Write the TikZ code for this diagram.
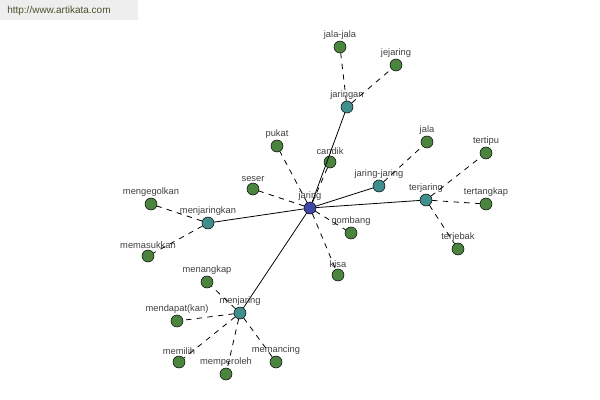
\documentclass[tikz,border=0pt]{standalone}
\usepackage{fontspec}
\setmainfont{Liberation Sans}
\usetikzlibrary{positioning}
\tikzstyle{canvas} = [x = 0.75pt, y = -0.75pt]
\definecolor{rootColor}{RGB}{62,72,168}
\definecolor{formColor}{RGB}{64,142,142}
\definecolor{wordColor}{RGB}{74,132,62}
\definecolor{markColor}{RGB}{238,238,238}
\definecolor{markText}{RGB}{72,84,44}
\tikzstyle{dot} = [circle, draw=black, thin, minimum size = 9pt, inner sep = 0pt]
\tikzstyle{rootDot} = [dot, fill=rootColor]
\tikzstyle{formDot} = [dot, fill=formColor]
\tikzstyle{wordDot} = [dot, fill=wordColor]
\tikzstyle{wordLabel} = [font=\fontsize{7}{8}\selectfont, text=black!75, inner sep = 1pt]
\tikzstyle{strongLink} = [color=black, line width = 0.6pt]
\tikzstyle{weakLink} = [color=black, line width = 0.6pt, dash pattern = on 4pt off 4pt]
\newcommand{\wordNode}[5]{\node [#4, label={[wordLabel, label distance = 0pt]above:#5}] (#1) at (#2, #3) {};}

\begin{document}
\begin{tikzpicture}[canvas]
  \useasboundingbox [fill=white] (0,0) rectangle (600,400);
  \fill [markColor] (0,0) rectangle (138,20);
  \node [font=\fontsize{7.5}{9}\selectfont, text=markText, anchor=west, inner sep = 0pt] (mark) at (7,11) {http://www.artikata.com};

  % root and derived forms
  \wordNode{jaring}{310}{208}{rootDot}{jaring}
  \wordNode{jaringan}{347}{107}{formDot}{jaringan}
  \wordNode{jaringjaring}{379}{186}{formDot}{jaring-jaring}
  \wordNode{terjaring}{426}{200}{formDot}{terjaring}
  \wordNode{menjaringkan}{208}{223}{formDot}{menjaringkan}
  \wordNode{menjaring}{240}{313}{formDot}{menjaring}

  % related words
  \wordNode{jalajala}{340}{47}{wordDot}{jala-jala}
  \wordNode{jejaring}{396}{65}{wordDot}{jejaring}
  \wordNode{pukat}{277}{146}{wordDot}{pukat}
  \wordNode{candik}{330}{162}{wordDot}{candik}
  \wordNode{seser}{253}{189}{wordDot}{seser}
  \wordNode{jala}{427}{142}{wordDot}{jala}
  \wordNode{tertipu}{486}{153}{wordDot}{tertipu}
  \wordNode{tertangkap}{486}{204}{wordDot}{tertangkap}
  \wordNode{terjebak}{458}{249}{wordDot}{terjebak}
  \wordNode{gombang}{351}{233}{wordDot}{gombang}
  \wordNode{kisa}{338}{275}{wordDot}{kisa}
  \wordNode{mengegolkan}{151}{204}{wordDot}{mengegolkan}
  \wordNode{memasukkan}{148}{256}{wordDot}{memasukkan}
  \wordNode{menangkap}{207}{282}{wordDot}{menangkap}
  \wordNode{mendapatkan}{177}{321}{wordDot}{mendapat(kan)}
  \wordNode{memilih}{179}{362}{wordDot}{memilih}
  \wordNode{memperoleh}{226}{374}{wordDot}{memperoleh}
  \wordNode{memancing}{276}{362}{wordDot}{memancing}

  \foreach \form in {jaringan, jaringjaring, terjaring, menjaringkan, menjaring}
    \draw [strongLink] (jaring) -- (\form);
  \foreach \word in {pukat, candik, seser, gombang, kisa}
    \draw [weakLink] (jaring) -- (\word);
  \foreach \word in {jalajala, jejaring}
    \draw [weakLink] (jaringan) -- (\word);
  \draw [weakLink] (jaringjaring) -- (jala);
  \foreach \word in {tertipu, tertangkap, terjebak}
    \draw [weakLink] (terjaring) -- (\word);
  \foreach \word in {mengegolkan, memasukkan}
    \draw [weakLink] (menjaringkan) -- (\word);
  \foreach \word in {menangkap, mendapatkan, memilih, memperoleh, memancing}
    \draw [weakLink] (menjaring) -- (\word);
\end{tikzpicture}
\end{document}
